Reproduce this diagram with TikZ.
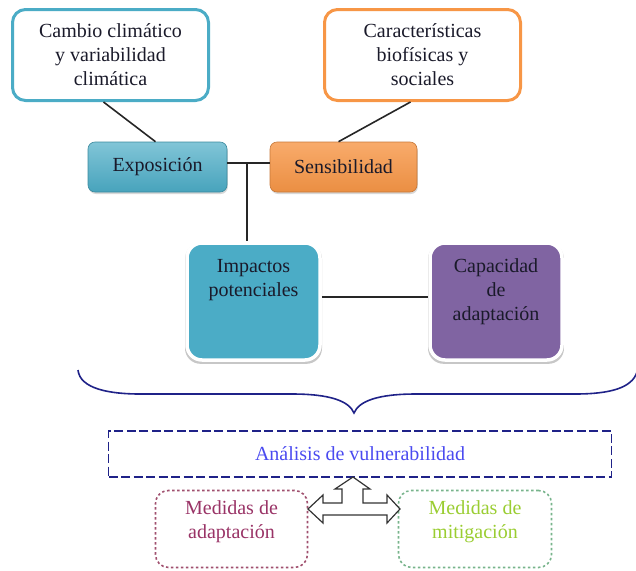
\documentclass[tikz,border=0pt]{standalone}
\usepackage{fontspec}
\setmainfont{Liberation Serif}
\usetikzlibrary{shadows,calc}
\definecolor{cblue}{HTML}{4BACC6}
\definecolor{corange}{HTML}{F79646}
\definecolor{cpurple}{HTML}{8064A2}
\definecolor{cnavy}{HTML}{1F2288}
\definecolor{cvtext}{HTML}{4A4AF0}
\definecolor{cmaroon}{HTML}{A0506E}
\definecolor{cmaroontext}{HTML}{993366}
\definecolor{cgreen}{HTML}{78B48C}
\definecolor{cgreentext}{HTML}{9ACD32}
\definecolor{ctext}{HTML}{1A1A2A}
\begin{document}
\begin{tikzpicture}[x=1pt,y=-1pt,
  every node/.style={font=\fontsize{20}{24}\selectfont, align=center, inner sep=0pt, text=ctext},
  outlinebox/.style={draw=#1, line width=3pt, fill=white, rounded corners=13pt},
  tabbox/.style={rounded corners=7pt, draw=#1!80!black, line width=0.6pt,
    drop shadow={shadow xshift=0.8pt, shadow yshift=-2pt, fill=black!30}},
  glowbox/.style={fill=#1, draw=white, line width=3.5pt, rounded corners=15pt,
    general shadow={fill=black!22, shadow scale=1.03, shadow yshift=-2pt}},
  dotbox/.style={draw=#1, line width=1.6pt, dash pattern=on 2.5pt off 2.5pt, rounded corners=13pt},
  link/.style={draw=black!85, line width=1.6pt}
]
\useasboundingbox (0,0) rectangle (636,570);

% source boxes
\node[outlinebox=cblue, minimum width=196pt, minimum height=91pt] (clima) at (110.5,55)
  {Cambio climático\\y variabilidad\\climática};
\node[outlinebox=corange, minimum width=196pt, minimum height=91pt] (carac) at (422.5,55)
  {Características\\biofísicas y\\sociales};

% exposure and sensitivity tabs
\node[tabbox=cblue, top color=cblue!70, bottom color=cblue!95!black,
  minimum width=139pt, minimum height=50pt] (expo) at (157.5,167) {Exposición};
\node[tabbox=corange, top color=corange!80, bottom color=corange!95!black,
  minimum width=147pt, minimum height=50pt] (sens) at (343.5,167) {Sensibilidad};

% impact and capacity boxes
\node[glowbox=cblue, minimum width=133pt, minimum height=117pt] (imp) at (253.5,301.5)
  {Impactos\\potenciales\\~\\~};
\node[glowbox=cpurple, minimum width=132pt, minimum height=117pt] (cap) at (496,301.5)
  {Capacidad\\de\\adaptación\\~};

% connectors
\draw[link] ($(clima.south)+(-7,0)$) -- ($(expo.north)+(-2,0)$);
\draw[link] ($(carac.south)+(-12,0)$) -- ($(sens.north)+(-5,0)$);
\coordinate (junc) at (247,163);
\draw[link] (expo.east |- junc) -- (sens.west |- junc);
\draw[link] (junc) -- (junc |- imp.north);
\coordinate (mid) at (0,297);
\draw[link] (imp.east |- mid) -- (cap.west |- mid);

% brace
\draw[cnavy, line width=1.6pt]
  (78,370) .. controls (80,389) and (110,394) .. (140,394) -- (292,394)
  .. controls (330,394) and (349,401) .. (354,413)
  .. controls (359,401) and (378,394) .. (416,394) -- (575,394)
  .. controls (610,394) and (632,388) .. (637,372);

% vulnerability analysis
\node[draw=cnavy, line width=1.8pt, dash pattern=on 9pt off 3.5pt,
  minimum width=503pt, minimum height=46pt, text=cvtext] (ana) at (360,454)
  {Análisis de vulnerabilidad};

% measures
\node[dotbox=cmaroon, minimum width=152pt, minimum height=77pt, text=cmaroontext] (adap) at (231.5,529)
  {Medidas de\\adaptación\\[-6pt]~};
\node[dotbox=cgreen, minimum width=153pt, minimum height=77pt, text=cgreentext] (miti) at (475,529)
  {Medidas de\\mitigación\\[-6pt]~};

% three-way arrow
\draw[fill=white, draw=black!80, line width=1.2pt, line join=miter]
  (353,477) -- (370,489) -- (363,489) -- (363,503) -- (387,503) -- (387,495)
  -- (400,509) -- (387,523) -- (387,515) -- (323,515) -- (323,523)
  -- (308,509) -- (323,495) -- (323,503) -- (342,503) -- (342,489)
  -- (335,489) -- cycle;
\end{tikzpicture}
\end{document}
